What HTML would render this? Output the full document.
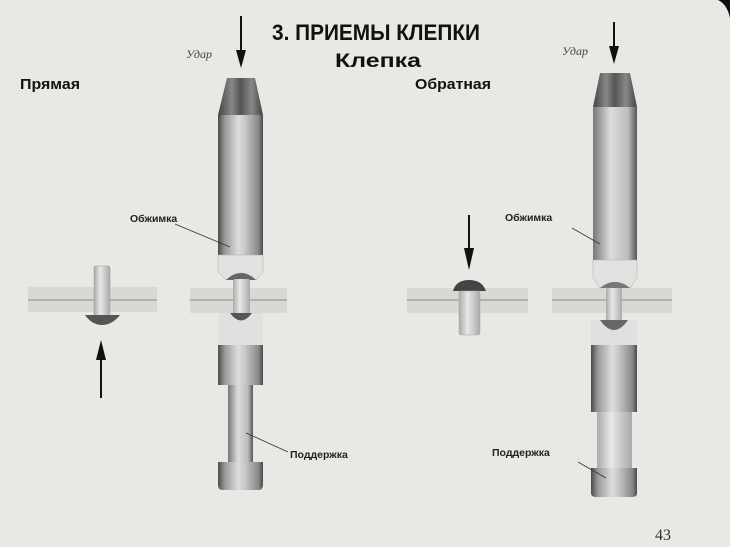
<!DOCTYPE html>
<html><head><meta charset="utf-8"><style>
html,body{margin:0;padding:0;background:#e8e8e5;}
svg{display:block}
.b{font-family:"Liberation Sans",sans-serif;font-weight:bold;fill:#111}
.s{font-family:"Liberation Sans",sans-serif;font-weight:bold;fill:#222}
.i{font-family:"Liberation Serif",serif;font-style:italic;fill:#444}
</style></head><body>
<svg width="730" height="547" viewBox="0 0 730 547" xmlns="http://www.w3.org/2000/svg">
<defs>
<linearGradient id="cyl" x1="0" x2="1">
<stop offset="0" stop-color="#4a4a4a"/><stop offset="0.15" stop-color="#999"/><stop offset="0.45" stop-color="#ddd"/><stop offset="0.6" stop-color="#c8c8c8"/><stop offset="0.9" stop-color="#888"/><stop offset="1" stop-color="#4a4a4a"/>
</linearGradient>
<linearGradient id="cylL" x1="0" x2="1">
<stop offset="0" stop-color="#aaa"/><stop offset="0.4" stop-color="#e8e8e8"/><stop offset="1" stop-color="#aaa"/>
</linearGradient>
<linearGradient id="cone" x1="0" x2="1">
<stop offset="0" stop-color="#444"/><stop offset="0.3" stop-color="#888"/><stop offset="0.5" stop-color="#555"/><stop offset="0.75" stop-color="#888"/><stop offset="1" stop-color="#444"/>
</linearGradient>
<linearGradient id="cyl2" x1="0" x2="1">
<stop offset="0" stop-color="#777"/><stop offset="0.4" stop-color="#ddd"/><stop offset="0.8" stop-color="#bbb"/><stop offset="1" stop-color="#555"/>
</linearGradient>
</defs>
<rect width="730" height="547" fill="#e8e8e5"/>
<path d="M718 0 H730 V18 Q727 4 718 0Z" fill="#111"/>

<text class="b" x="272" y="40" font-size="22" textLength="208" lengthAdjust="spacingAndGlyphs">3. ПРИЕМЫ КЛЕПКИ</text>
<text class="b" x="335" y="67" font-size="19" textLength="86" lengthAdjust="spacingAndGlyphs">Клепка</text>
<text class="b" x="20" y="89" font-size="15" textLength="60" lengthAdjust="spacingAndGlyphs">Прямая</text>
<text class="b" x="415" y="89" font-size="15" textLength="76" lengthAdjust="spacingAndGlyphs">Обратная</text>
<text class="i" x="186" y="58" font-size="12">Удар</text>
<text class="i" x="562" y="55" font-size="12">Удар</text>
<text class="s" x="130" y="222" font-size="10.5">Обжимка</text>
<text class="s" x="290" y="458" font-size="10.5">Поддержка</text>
<text class="s" x="505" y="221" font-size="10.5">Обжимка</text>
<text class="s" x="492" y="456" font-size="10.5">Поддержка</text>
<text x="655" y="540" font-family="Liberation Serif,serif" font-size="16" fill="#333">43</text>

<g stroke="#111" stroke-width="2">
<line x1="241" y1="16" x2="241" y2="55"/><line x1="614" y1="22" x2="614" y2="52"/>
<line x1="469" y1="215" x2="469" y2="255"/><line x1="101" y1="398" x2="101" y2="355"/>
</g>
<g fill="#111">
<path d="M236 50 L246 50 L241 68Z"/><path d="M609 46 L619 46 L614 64Z"/>
<path d="M464 248 L474 248 L469 270Z"/><path d="M96 360 L106 360 L101 340Z"/>
</g>

<g fill="#d8d8d5">
<rect x="28" y="287" width="129" height="25"/><rect x="190" y="288" width="97" height="25"/>
<rect x="407" y="288" width="121" height="25"/><rect x="552" y="288" width="120" height="25"/>
</g>
<g stroke="#888" stroke-width="1">
<line x1="28" y1="300" x2="157" y2="300"/><line x1="190" y1="300" x2="287" y2="300"/>
<line x1="407" y1="300" x2="528" y2="300"/><line x1="552" y1="300" x2="672" y2="300"/>
</g>

<rect x="94" y="266" width="16" height="50" rx="2" fill="url(#cylL)" stroke="#999" stroke-width="0.5"/>
<path d="M85 315 H120 Q112 325 102 325 Q92 325 85 315Z" fill="#555"/>

<path d="M453 291 Q456 280 469 280 Q482 280 486 291Z" fill="#444"/>
<rect x="459" y="291" width="21" height="44" rx="2" fill="url(#cylL)" stroke="#aaa" stroke-width="0.5"/>

<path d="M227 78 H255 L263 115 H218Z" fill="url(#cone)"/>
<rect x="218" y="115" width="45" height="140" fill="url(#cyl)"/>
<path d="M218 255 H263 V272 L256 280 Q241 266 226 280 L218 272Z" fill="#e2e2e0" stroke="#aaa" stroke-width="0.5"/>
<path d="M226 280 Q241 266 256 280 Z" fill="#666"/>
<rect x="233" y="279" width="17" height="36" rx="2" fill="url(#cylL)"/>
<path d="M218 313 H230 Q241 328 252 313 H263 V345 H218Z" fill="#e0e0de"/>
<path d="M230 313 Q241 328 252 313Z" fill="#555"/>
<rect x="218" y="345" width="45" height="40" fill="url(#cyl)"/>
<rect x="228" y="385" width="25" height="78" fill="url(#cyl2)"/>
<path d="M218 462 H263 V485 Q263 490 258 490 H223 Q218 490 218 485Z" fill="url(#cyl)"/>
<line x1="175" y1="224" x2="230" y2="247" stroke="#333" stroke-width="0.8"/>
<line x1="288" y1="452" x2="246" y2="433" stroke="#333" stroke-width="0.8"/>

<path d="M600 73 H630 L637 107 H593Z" fill="url(#cone)"/>
<rect x="593" y="107" width="44" height="153" fill="url(#cyl2)"/>
<path d="M593 260 H637 V278 L630 288 Q615 276 600 288 L593 278Z" fill="#e2e2e0" stroke="#aaa" stroke-width="0.5"/>
<path d="M600 288 Q615 276 630 288Z" fill="#777"/>
<rect x="606" y="288" width="16" height="38" rx="2" fill="url(#cylL)"/>
<path d="M591 320 H600 Q614 340 628 320 H637 V345 H591Z" fill="#e0e0de"/>
<path d="M600 320 Q614 340 628 320Z" fill="#666"/>
<rect x="591" y="345" width="46" height="67" fill="url(#cyl)"/>
<rect x="597" y="412" width="35" height="57" fill="url(#cylL)"/>
<path d="M591 468 H637 V493 Q637 497 632 497 H596 Q591 497 591 493Z" fill="url(#cyl)"/>
<line x1="572" y1="228" x2="600" y2="244" stroke="#333" stroke-width="0.8"/>
<line x1="578" y1="462" x2="606" y2="478" stroke="#333" stroke-width="0.8"/>
</svg>
</body></html>
